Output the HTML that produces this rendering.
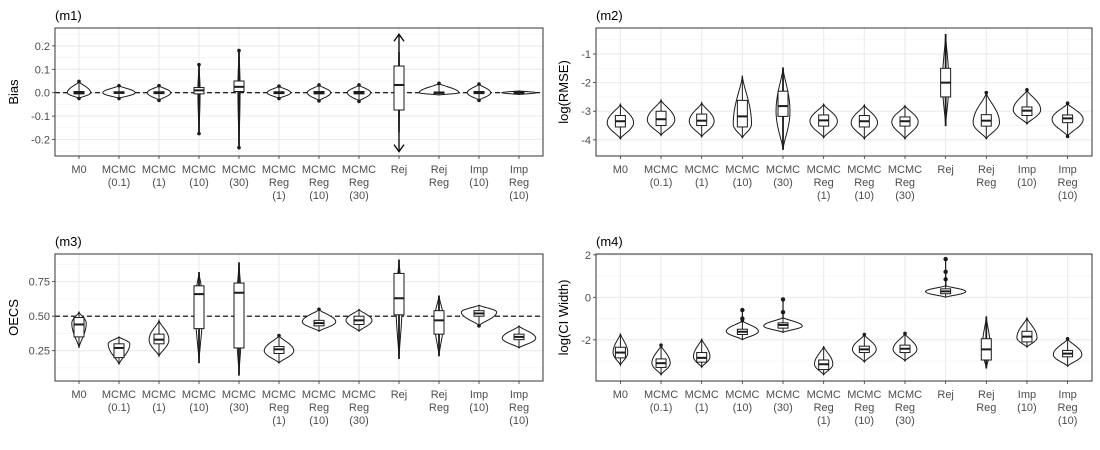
<!DOCTYPE html>
<html><head><meta charset="utf-8">
<style>
html,body{margin:0;padding:0;background:#fff;}
svg{display:block;font-family:"Liberation Sans",sans-serif;}
</style></head>
<body>
<svg id="chart" width="1100" height="450" viewBox="0 0 1100 450" xmlns="http://www.w3.org/2000/svg"></svg>
<script>
const categories = [["M0"],["MCMC","(0.1)"],["MCMC","(1)"],["MCMC","(10)"],["MCMC","(30)"],["MCMC","Reg","(1)"],["MCMC","Reg","(10)"],["MCMC","Reg","(30)"],["Rej"],["Rej","Reg"],["Imp","(10)"],["Imp","Reg","(10)"]];

// m1: Bias
const m1Ticks = [-0.2,-0.1,0.0,0.1,0.2];
const m1TickLabels = ["-0.2","-0.1","0.0","0.1","0.2"];
const m1Min  = [-0.025,-0.025,-0.033,-0.175,-0.235,-0.025,-0.035,-0.037,-0.17,-0.01,-0.033,-0.008];
const m1Max  = [0.048,0.03,0.03,0.12,0.18,0.028,0.033,0.033,0.175,0.04,0.037,0.008];
const m1Peak = [0,0,0,0.005,0.02,0,0,0,0,0,0,0];
const m1Dens = [0.65,0.9,0.65,0.06,0.06,0.65,0.65,0.65,0.03,1.1,0.65,0.95];
const m1Q1   = [-0.005,-0.003,-0.004,-0.005,0.005,-0.004,-0.005,-0.005,-0.074,-0.003,-0.004,-0.003];
const m1Med  = [0,0,0,0.01,0.025,0,0,0,0.033,0,0,0];
const m1Q3   = [0.005,0.004,0.004,0.022,0.05,0.004,0.005,0.005,0.114,0.003,0.005,0.003];

// m2: log(RMSE)
const m2Ticks = [-4,-3,-2,-1];
const m2TickLabels = ["-4","-3","-2","-1"];
const m2Min  = [-3.97,-3.85,-3.9,-3.93,-4.35,-3.93,-3.97,-3.97,-3.52,-3.97,-3.45,-3.88];
const m2Max  = [-2.75,-2.6,-2.7,-1.75,-1.47,-2.75,-2.78,-2.8,-0.3,-2.35,-2.25,-2.72];
const m2Peak = [-3.4,-3.3,-3.35,-3.45,-3.0,-3.35,-3.4,-3.37,-2.0,-3.4,-2.95,-3.28];
const m2Dens = [0.72,0.75,0.68,0.5,0.38,0.75,0.72,0.72,0.17,0.72,0.75,0.85];
const m2Q1   = [-3.55,-3.5,-3.5,-3.55,-3.18,-3.52,-3.55,-3.52,-2.5,-3.52,-3.15,-3.4];
const m2Med  = [-3.35,-3.28,-3.33,-3.18,-2.82,-3.32,-3.35,-3.35,-2.0,-3.33,-2.98,-3.25];
const m2Q3   = [-3.15,-3.0,-3.1,-2.62,-2.3,-3.13,-3.15,-3.2,-1.5,-3.12,-2.85,-3.13];

// m3: OECS
const m3Ticks = [0.25,0.5,0.75];
const m3TickLabels = ["0.25","0.50","0.75"];
const m3Min  = [0.27,0.15,0.21,0.16,0.07,0.16,0.39,0.39,0.19,0.21,0.43,0.27];
const m3Max  = [0.53,0.35,0.47,0.82,0.89,0.36,0.55,0.55,0.91,0.65,0.58,0.43];
const m3Peak = [0.45,0.3,0.33,0.6,0.5,0.25,0.46,0.47,0.6,0.47,0.53,0.34];
const m3Dens = [0.4,0.6,0.55,0.22,0.17,0.82,0.93,0.72,0.17,0.25,0.98,0.93];
const m3Q1   = [0.35,0.2,0.3,0.41,0.27,0.23,0.43,0.44,0.51,0.37,0.5,0.33];
const m3Med  = [0.44,0.27,0.33,0.66,0.67,0.26,0.45,0.47,0.63,0.47,0.52,0.35];
const m3Q3   = [0.49,0.3,0.37,0.72,0.74,0.28,0.47,0.5,0.81,0.54,0.54,0.37];

// m4: log(CI Width)
const m4Ticks = [-2,0,2];
const m4TickLabels = ["-2","0","2"];
const m4Min  = [-3.2,-3.65,-3.3,-2.0,-1.65,-3.65,-3.05,-3.0,0.0,-3.35,-2.35,-3.25];
const m4Max  = [-1.7,-2.25,-1.95,-1.1,-0.95,-2.3,-1.75,-1.7,0.55,-0.9,-0.95,-1.95];
const m4Peak = [-2.6,-3.1,-2.8,-1.6,-1.35,-3.15,-2.45,-2.45,0.27,-2.4,-1.9,-2.7];
const m4Dens = [0.4,0.5,0.45,0.88,1.05,0.5,0.65,0.65,1.1,0.22,0.55,0.78];
const m4Q1   = [-2.85,-3.3,-3.05,-1.75,-1.45,-3.4,-2.6,-2.6,0.17,-2.95,-2.1,-2.8];
const m4Med  = [-2.6,-3.1,-2.85,-1.62,-1.3,-3.15,-2.45,-2.42,0.28,-2.45,-1.85,-2.65];
const m4Q3   = [-2.35,-2.9,-2.6,-1.5,-1.2,-2.95,-2.3,-2.25,0.4,-1.95,-1.6,-2.5];
const m4OutCat = [3,3,4,4,8,8,8];
const m4OutVal = [-0.6,-1.0,-0.1,-0.7,0.85,1.2,1.8];

const NS = "http://www.w3.org/2000/svg";
const svg = document.getElementById("chart");
function mk(tag, attrs, parent){
  const e = document.createElementNS(NS, tag);
  for (const k in attrs) e.setAttribute(k, attrs[k]);
  (parent||svg).appendChild(e);
  return e;
}

function panel(cfg){
  const g = mk("g", {});
  
  
  const L=cfg.x0, R=cfg.x1, T=cfg.y0, B=cfg.y1;
  const [d0,d1]=cfg.dom;
  const y = v => B - (v-d0)/(d1-d0)*(B-T);
  const step = (R-L)/12.2;
  const x = i => L + step*(0.6+i);
  mk("rect",{x:L,y:T,width:R-L,height:B-T,fill:"#fff"},g);
  const tk = cfg.ticks;
  const dt = tk[1]-tk[0];
  for (let v=tk[0]-dt/2; v<=d1; v+=dt){
    if (v<d0) continue;
    mk("line",{x1:L,x2:R,y1:y(v),y2:y(v),stroke:"#F2F2F2","stroke-width":0.6},g);
  }
  tk.forEach((v,i)=>{
    const gl = mk("line",{x1:L,x2:R,y1:y(v),y2:y(v),stroke:"#EBEBEB","stroke-width":1.1},g);
    
    
    mk("line",{x1:L-3,x2:L,y1:y(v),y2:y(v),stroke:"#333","stroke-width":0.8},g);
    const t = mk("text",{x:L-5,y:y(v)+4,"text-anchor":"end","font-size":"11",fill:"#4D4D4D"},g);
    t.textContent = cfg.tickLabels[i];
    
    
  });
  categories.forEach((c,i)=>{
    mk("line",{x1:x(i),x2:x(i),y1:T,y2:B,stroke:"#EBEBEB","stroke-width":1.1},g);
    mk("line",{x1:x(i),x2:x(i),y1:B,y2:B+3,stroke:"#333","stroke-width":0.8},g);
    const t = mk("text",{x:x(i),y:B+17,"text-anchor":"middle","font-size":"11",fill:"#4D4D4D"},g);
    
    
    c.forEach((s,j)=>{ const ts=mk("tspan",{x:x(i),dy:j?13:0},t); ts.textContent=s; });
  });
  if (cfg.ref!==undefined){
    const rl = mk("line",{x1:L,x2:R,y1:y(cfg.ref),y2:y(cfg.ref),stroke:"#000","stroke-width":1.1,"stroke-dasharray":"5,3"},g);
    
    
  }
  categories.forEach((c,i)=>{
    const cx=x(i), lo=cfg.min[i], hi=cfg.max[i], pk=cfg.peak[i], w=cfg.dens[i]*step*0.45;
    const N=30, right=[], left=[];
    for (let k=0;k<=N;k++){
      const v = lo + (hi-lo)*k/N;
      let u = v<pk ? (pk-v)/Math.max(pk-lo,1e-9) : (v-pk)/Math.max(hi-pk,1e-9);
      u=Math.min(1,u);
      const hw = w*Math.pow(1-u*u,1.6);
      right.push([cx+hw,y(v)]); left.push([cx-hw,y(v)]);
    }
    const pts = right.concat(left.reverse()).map(p=>p[0].toFixed(2)+","+p[1].toFixed(2)).join(" ");
    const vio = mk("polygon",{points:pts,fill:"#fff",stroke:"#1a1a1a","stroke-width":1},g);
    
    
    const q1=cfg.q1[i], q3=cfg.q3[i], md=cfg.med[i], iqr=q3-q1;
    const wHi=Math.min(hi,q3+1.5*iqr), wLo=Math.max(lo,q1-1.5*iqr);
    const sw = (y(lo)-y(hi))>40 && cfg.dens[i]<0.4 ? 1.8 : 1;
    mk("line",{x1:cx,x2:cx,y1:y(hi),y2:y(q3),stroke:"#1a1a1a","stroke-width":sw},g);
    mk("line",{x1:cx,x2:cx,y1:y(q1),y2:y(lo),stroke:"#1a1a1a","stroke-width":sw},g);
    if (hi>wHi+1e-9) mk("circle",{cx:cx,cy:y(hi),r:1.8,fill:"#1a1a1a"},g);
    if (lo<wLo-1e-9) mk("circle",{cx:cx,cy:y(lo),r:1.8,fill:"#1a1a1a"},g);
    const bx = mk("rect",{x:cx-5,y:y(q3),width:10,height:Math.max(0.5,y(q1)-y(q3)),fill:"#fff",stroke:"#1a1a1a","stroke-width":1},g);
    
    
    mk("line",{x1:cx-5,x2:cx+5,y1:y(md),y2:y(md),stroke:"#1a1a1a","stroke-width":2},g);
  });
  if (cfg.outCat){
    cfg.outCat.forEach((ci,k)=>{
      const v=cfg.outVal[k];
      mk("line",{x1:x(ci),x2:x(ci),y1:y(v),y2:y(cfg.max[ci]),stroke:"#1a1a1a","stroke-width":1.2},g);
      const p=mk("circle",{cx:x(ci),cy:y(v),r:2.2,fill:"#1a1a1a"},g);
      
      
    });
  }
  if (cfg.arrows){
    const cx=x(cfg.arrows.cat);
    [cfg.arrows.top,cfg.arrows.bot].forEach((v,k)=>{
      const from = k===0 ? cfg.max[cfg.arrows.cat] : cfg.min[cfg.arrows.cat];
      mk("line",{x1:cx,x2:cx,y1:y(from),y2:y(v),stroke:"#000","stroke-width":1.3},g);
      const dir = k===0?1:-1;
      const ar = mk("polyline",{points:`${cx-5},${y(v)+dir*7} ${cx},${y(v)} ${cx+5},${y(v)+dir*7}`,fill:"none",stroke:"#000","stroke-width":1.3},g);
      
      
    });
  }
  mk("rect",{x:L,y:T,width:R-L,height:B-T,fill:"none",stroke:"#333","stroke-width":1},g);
  const ti = mk("text",{x:L,y:T-8,"font-size":"13",fill:"#000"},g);
  ti.textContent = cfg.title;
  
  
  const yt = mk("text",{x:0,y:0,"font-size":"13",fill:"#000","text-anchor":"middle",transform:`translate(${cfg.ytx},${(T+B)/2}) rotate(-90)`},g);
  yt.textContent = cfg.ytitle;
  
  
}

panel({name:"panel-m1",title:"(m1)",ytitle:"Bias",ytx:18,x0:55,x1:543,y0:28,y1:156,dom:[-0.2706,0.2765],ticks:m1Ticks,tickLabels:m1TickLabels,min:m1Min,max:m1Max,peak:m1Peak,dens:m1Dens,q1:m1Q1,med:m1Med,q3:m1Q3,ref:0,arrows:{cat:8,top:0.25,bot:-0.252}});
panel({name:"panel-m2",title:"(m2)",ytitle:"log(RMSE)",ytx:568,x0:596,x1:1092,y0:28,y1:156,dom:[-4.565,-0.09],ticks:m2Ticks,tickLabels:m2TickLabels,min:m2Min,max:m2Max,peak:m2Peak,dens:m2Dens,q1:m2Q1,med:m2Med,q3:m2Q3});
panel({name:"panel-m3",title:"(m3)",ytitle:"OECS",ytx:18,x0:55,x1:543,y0:254,y1:381,dom:[0.0305,0.9507],ticks:m3Ticks,tickLabels:m3TickLabels,min:m3Min,max:m3Max,peak:m3Peak,dens:m3Dens,q1:m3Q1,med:m3Med,q3:m3Q3,ref:0.5});
panel({name:"panel-m4",title:"(m4)",ytitle:"log(CI Width)",ytx:568,x0:596,x1:1092,y0:254,y1:381,dom:[-3.939,2.04],ticks:m4Ticks,tickLabels:m4TickLabels,min:m4Min,max:m4Max,peak:m4Peak,dens:m4Dens,q1:m4Q1,med:m4Med,q3:m4Q3,outCat:m4OutCat,outVal:m4OutVal});
</script>
</body></html>
